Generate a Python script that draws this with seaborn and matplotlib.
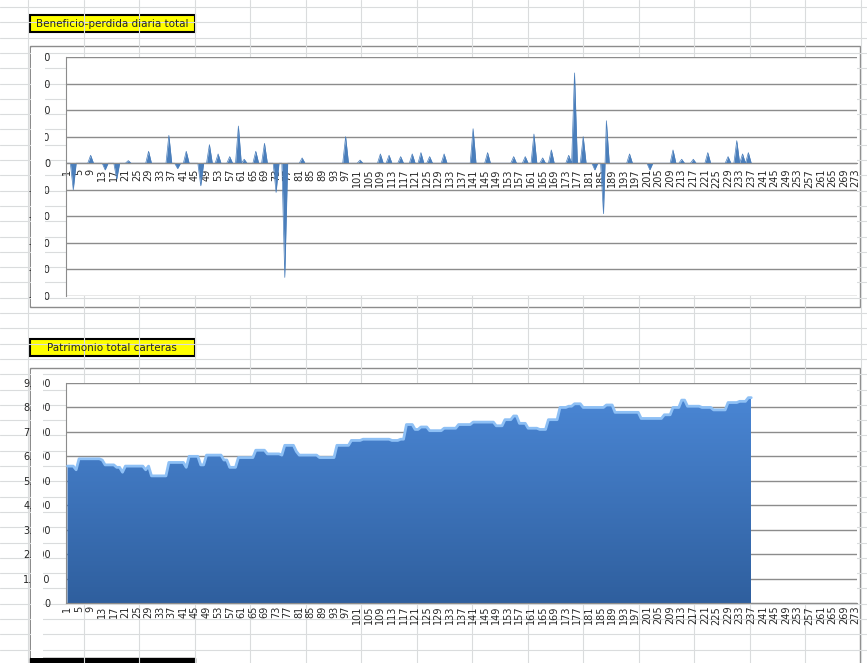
import numpy as np
import pandas as pd
import matplotlib
matplotlib.use('Agg')
import matplotlib.pyplot as plt
from matplotlib.patches import Rectangle
import seaborn as sns

# daily profit/loss spikes (index -> value), zero elsewhere
spike_idx = [3, 9, 14, 18, 22, 29, 36, 39, 42, 47, 50, 53, 57, 60, 62, 66, 69, 73, 76, 82, 97, 102,
             109, 112, 116, 120, 123, 126, 131, 141, 146, 155, 159, 162, 165, 168, 174, 176, 179,
             183, 186, 187, 195, 202, 210, 213, 217, 222, 229, 232, 234, 236]
spike_val = [-100, 30, -25, -60, 10, 45, 105, -20, 45, -85, 70, 35, 25, 140, 15, 45, 75, -110, -430, 20, 100, 12,
             35, 30, 25, 35, 40, 25, 35, 130, 40, 25, 25, 110, 20, 50, 30, 340, 100,
             -25, -190, 160, 35, -25, 50, 15, 15, 40, 25, 85, 35, 40]
n_days = 237

# total portfolio value (thousands), run-length: value, number of days
equity_vals = [5.6, 5.45, 5.9, 5.85, 5.65, 5.55, 5.35, 5.6, 5.45, 5.6, 5.2, 5.75, 5.55, 6.0, 5.65, 6.05,
               5.85, 5.55, 5.95, 6.25, 6.1, 6.05, 6.45, 6.2, 6.05, 5.95, 6.45, 6.65, 6.7, 6.65, 6.7,
               7.3, 7.1, 7.2, 7.05, 7.15, 7.3, 7.4, 7.25, 7.5, 7.65, 7.35, 7.15, 7.1, 7.5, 8.0, 8.05,
               8.15, 8.0, 8.1, 7.8, 7.55, 7.7, 8.0, 8.3, 8.05, 8.0, 7.9, 8.2, 8.25, 8.4]
equity_runs = [3, 1, 8, 1, 4, 2, 1, 7, 1, 1, 6, 6, 1, 4, 2, 6,
               2, 3, 6, 4, 5, 1, 4, 1, 7, 6, 5, 4, 10, 3, 2,
               3, 2, 3, 5, 5, 5, 8, 3, 3, 2, 3, 4, 3, 4, 3, 2,
               3, 8, 3, 9, 8, 3, 3, 2, 5, 4, 5, 4, 3, 2]

top_ticks = [400, 300, 200, 100, 0, -100, -200, -300, -400, -500]
bottom_ticks = list(range(0, 10))
xlabels = list(range(1, 274, 4))

pnl = pd.Series(0.0, index=range(1, n_days + 1))
pnl.loc[spike_idx] = spike_val
df_top = pd.DataFrame({'dia': pnl.index, 'valor': pnl.values})

eq = np.repeat(equity_vals, equity_runs)
df_bot = pd.DataFrame({'dia': np.arange(1, len(eq) + 1), 'valor': eq})

W, H = 867, 663
fig = plt.figure(figsize=(W / 100, H / 100), dpi=100)
sns.set_style('white')
plt.rcParams['font.family'] = ['DejaVu Sans']

def fx(px):
    return px / W

def fy(py):
    return 1 - py / H

# spreadsheet background grid
bg = fig.add_axes([0, 0, 1, 1])
bg.set_xlim(0, W)
bg.set_ylim(H, 0)
bg.axis('off')
for x in np.arange(28, W, 55.5):
    bg.axvline(x, color='#dadcdd', lw=0.8)
for y in np.arange(7, H, 15.3):
    bg.axhline(y, color='#dadcdd', lw=0.8)

# chart frames and title boxes
for (x0, y0, x1, y1) in [(30, 46, 860, 307), (30, 368, 860, 670)]:
    bg.add_patch(Rectangle((x0, y0), x1 - x0, y1 - y0, facecolor='white', edgecolor='#8c8c8c', lw=1))
for (y0, txt) in [(15, 'Beneficio-perdida diaria total'), (339, 'Patrimonio total carteras')]:
    bg.add_patch(Rectangle((30, y0), 165, 17, facecolor='#ffff00', edgecolor='black', lw=1.5))
    bg.text(112, y0 + 9, txt, ha='center', va='center', fontsize=7.5)
bg.add_patch(Rectangle((30, 658), 165, 10, facecolor='black', edgecolor='black'))

def setup_axis(ax, ticks, labels, y0, y1):
    ax.set_xlim(0.5, 273.5)
    ax.set_ylim(y0, y1)
    ax.set_yticks(ticks)
    ax.set_yticklabels(labels, fontsize=7)
    ax.grid(axis='y', color='#8c8c8c', lw=1)
    ax.set_axisbelow(True)
    for s in ['top', 'right', 'bottom']:
        ax.spines[s].set_visible(False)
    ax.spines['left'].set_color('#8c8c8c')
    ax.set_xlabel('')
    ax.set_ylabel('')
    ax.set_xticks(xlabels)
    ax.set_xticks(range(1, 274), minor=True)
    ax.tick_params(axis='x', which='both', direction='in', length=3, color='#8c8c8c', pad=2)
    ax.tick_params(axis='y', length=4, color='#8c8c8c', pad=7)

def rotate_labels(ax):
    ax.set_xticklabels([str(v) for v in xlabels], rotation=90, fontsize=7)

# top chart
ax1 = fig.add_axes([fx(66), fy(296), fx(857 - 66), (296 - 57) / H])
ax1.fill_between(df_top['dia'], 0, df_top['valor'], color='#4a7ebb', lw=0)
sns.lineplot(data=df_top, x='dia', y='valor', ax=ax1, color='#4a7ebb', lw=0.5)
setup_axis(ax1, top_ticks, [str(t) for t in top_ticks], -500, 400)
ax1.spines['bottom'].set_visible(True)
ax1.spines['bottom'].set_color('#8c8c8c')
ax1.spines['bottom'].set_position(('data', 0))
ax1.tick_params(axis='x', which='both', direction='inout', length=4)
rotate_labels(ax1)

# bottom chart with gradient fill
ax2 = fig.add_axes([fx(66), fy(603), fx(857 - 66), (603 - 383) / H])
setup_axis(ax2, bottom_ticks, [f'{t}.000' if t else '0' for t in bottom_ticks], 0, 9)
ax2.spines['bottom'].set_visible(True)
ax2.spines['bottom'].set_color('#8c8c8c')
x = df_bot['dia'].values
y = df_bot['valor'].values
poly = ax2.fill_between(x, 0, y, color='none', lw=0)
grad = np.linspace(0, 1, 256).reshape(-1, 1)
cmap = matplotlib.colors.LinearSegmentedColormap.from_list('g', ['#2f5f9e', '#4a86d4'])
img = ax2.imshow(grad, aspect='auto', cmap=cmap, origin='lower',
                 extent=[x[0], x[-1], 0, y.max()], zorder=2)
img.set_clip_path(poly.get_paths()[0], transform=ax2.transData)
sns.lineplot(data=df_bot, x='dia', y='valor', ax=ax2, color='#8ec0f5', lw=2, zorder=3)
ax2.set_xlim(0.5, 273.5)
ax2.set_ylim(0, 9)
ax2.set_xlabel('')
ax2.set_ylabel('')
rotate_labels(ax2)

# truncated y labels: cover the left part as in the screenshot
ov = fig.add_axes([0, 0, 1, 1])
ov.set_xlim(0, W)
ov.set_ylim(H, 0)
ov.axis('off')
ov.add_patch(Rectangle((30.8, 48), 14, 258, facecolor='white', edgecolor='none'))
ov.add_patch(Rectangle((30.8, 370), 12, 288, facecolor='white', edgecolor='none'))

fig.savefig('out.png', dpi=100)
